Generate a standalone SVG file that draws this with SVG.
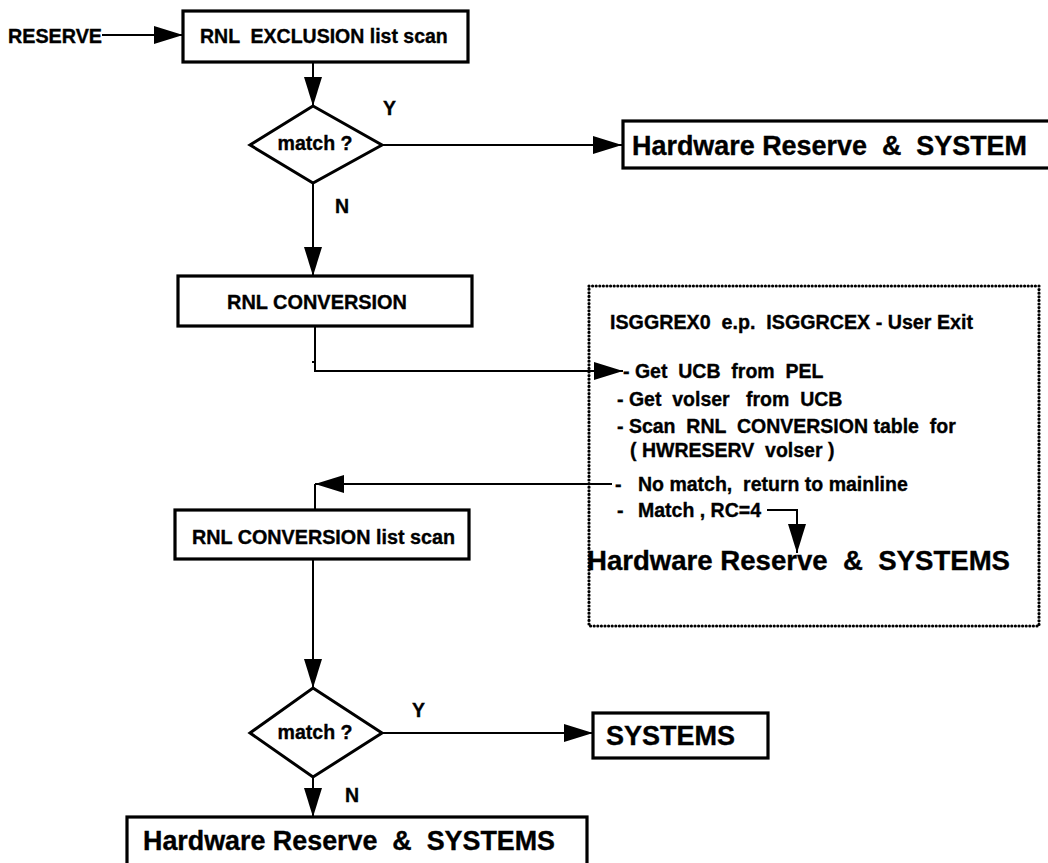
<svg xmlns="http://www.w3.org/2000/svg" width="1048" height="863" viewBox="0 0 1048 863">
  <style>
    text { font-family: "Liberation Sans", Arial, Helvetica, sans-serif; font-weight: bold; fill: #000; stroke: #000; stroke-width: 0.35; }
    .box { fill: #fff; stroke: #000; stroke-width: 3.2; }
    .dec { fill: #fff; stroke: #000; stroke-width: 3; stroke-linejoin: miter; }
    .wire { fill: none; stroke: #000; stroke-width: 2; }
    .dots { fill: none; stroke: #000; stroke-width: 3.2; stroke-linecap: round; stroke-dasharray: 0 3.6; }
    .s { font-size: 19.5px; }
    .m { font-size: 20px; }
    .l { font-size: 27px; }
  </style>
  <defs>
    <marker id="head" markerUnits="userSpaceOnUse" markerWidth="32" markerHeight="20" refX="29" refY="9" orient="auto">
      <path d="M0,0 L29,9 L0,18 z" fill="#000"/>
    </marker>
  </defs>
  <rect width="1048" height="863" fill="#fff"/>

  <!-- connectors -->
  <g id="connectors">
    <line class="wire" x1="102" y1="35" x2="183" y2="35" marker-end="url(#head)"/>
    <line class="wire" x1="313" y1="62" x2="313" y2="106" marker-end="url(#head)"/>
    <line class="wire" x1="382" y1="145" x2="622" y2="145" marker-end="url(#head)"/>
    <line class="wire" x1="313" y1="183" x2="313" y2="276" marker-end="url(#head)"/>
    <polyline class="wire" points="315,326 315,371 623,371" marker-end="url(#head)"/>
    <line class="wire" x1="312" y1="362" x2="315" y2="362"/>
    <polyline class="wire" points="612,484 315,484" marker-end="url(#head)"/>
    <line class="wire" x1="315" y1="484" x2="315" y2="510"/>
    <polyline class="wire" points="767,510 797,510 797,553" marker-end="url(#head)"/>
    <line class="wire" x1="313" y1="559" x2="313" y2="688" marker-end="url(#head)"/>
    <line class="wire" x1="382" y1="733" x2="593" y2="733" marker-end="url(#head)"/>
    <line class="wire" x1="313" y1="777" x2="313" y2="817" marker-end="url(#head)"/>
    <line class="wire" x1="307" y1="768" x2="309" y2="773"/>
  </g>

  <g id="start">
    <text class="s" x="8" y="43" textLength="94" lengthAdjust="spacingAndGlyphs">RESERVE</text>
  </g>

  <g id="exclusion-scan">
    <rect class="box" x="183" y="11" width="285" height="51"/>
    <text class="s" x="200" y="43" xml:space="preserve">RNL  EXCLUSION list scan</text>
  </g>

  <g id="match-1">
    <polygon class="dec" points="313,106 382,145 313,183 250,145"/>
    <text class="s" x="315" y="150" text-anchor="middle" textLength="75" lengthAdjust="spacingAndGlyphs">match ?</text>
    <text class="s" x="383" y="115">Y</text>
    <text class="s" x="335" y="213">N</text>
  </g>

  <g id="hw-reserve-system">
    <rect class="box" x="623" y="121" width="430" height="47"/>
    <text class="l" x="632" y="155" xml:space="preserve" textLength="395" lengthAdjust="spacingAndGlyphs">Hardware Reserve  &amp;  SYSTEM</text>
  </g>

  <g id="conversion">
    <rect class="box" x="178" y="276" width="294" height="50"/>
    <text class="m" x="227" y="309" textLength="180" lengthAdjust="spacingAndGlyphs">RNL CONVERSION</text>
  </g>

  <g id="user-exit">
    <rect class="dots" x="589" y="286" width="450" height="340"/>
    <text class="s" x="610" y="329" xml:space="preserve" textLength="363" lengthAdjust="spacingAndGlyphs">ISGGREX0  e.p.  ISGGRCEX - User Exit</text>
    <text class="s" x="623" y="378" xml:space="preserve">- Get  UCB  from  PEL</text>
    <text class="s" x="617" y="406" xml:space="preserve">- Get  volser   from  UCB</text>
    <text class="s" x="617" y="433" xml:space="preserve">- Scan  RNL  CONVERSION table  for</text>
    <text class="s" x="630" y="457" xml:space="preserve">( HWRESERV  volser )</text>
    <text class="s" xml:space="preserve"><tspan x="615" y="491">-</tspan><tspan x="638" y="491">No match,  return to mainline</tspan></text>
    <text class="s" xml:space="preserve"><tspan x="617" y="517">-</tspan><tspan x="638" y="517">Match , RC=4</tspan></text>
    <text class="l" x="587" y="570" xml:space="preserve" textLength="423" lengthAdjust="spacingAndGlyphs">Hardware Reserve  &amp;  SYSTEMS</text>
  </g>

  <g id="conversion-scan">
    <rect class="box" x="175" y="510" width="294" height="49"/>
    <text class="s" x="192" y="544" textLength="263" lengthAdjust="spacingAndGlyphs">RNL CONVERSION list scan</text>
  </g>

  <g id="match-2">
    <polygon class="dec" points="313,688 382,733 313,777 250,733"/>
    <text class="s" x="315" y="739" text-anchor="middle" textLength="75" lengthAdjust="spacingAndGlyphs">match ?</text>
    <text class="s" x="412" y="717">Y</text>
    <text class="s" x="345" y="802">N</text>
  </g>

  <g id="systems">
    <rect class="box" x="593" y="713" width="175" height="45"/>
    <text class="l" x="606" y="745">SYSTEMS</text>
  </g>

  <g id="hw-reserve-systems">
    <rect class="box" x="127" y="817" width="460" height="60"/>
    <text class="l" x="143" y="850" xml:space="preserve" textLength="412" lengthAdjust="spacingAndGlyphs">Hardware Reserve  &amp;  SYSTEMS</text>
  </g>
</svg>
